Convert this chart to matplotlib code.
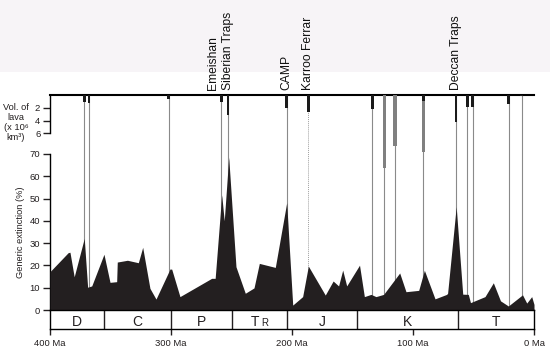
import matplotlib
matplotlib.use('Agg')
import matplotlib.pyplot as plt
from matplotlib.patches import Rectangle

plt.rcParams['font.family'] = ['Liberation Sans', 'DejaVu Sans']

# ---------------- data ----------------
# Generic extinction (%) through time (Ma)
ext_age = [400, 385, 383.5, 380, 371.7, 368.9, 365.5, 355.4, 350.4, 344.9, 344.4, 336, 327,
           323.4, 317.4, 312.4, 300.8, 299.4, 292.6, 266.4, 263.5, 258.1, 256, 252.3, 246.3,
           238.6, 231.4, 227, 213.8, 204.4, 199.4, 191.2, 186.5, 172.5, 166, 161.5, 158.1,
           154.8, 144.2, 140.2, 134.7, 130.6, 124.3, 111, 105.8, 95.3, 90.6, 81.8, 72.2,
           71.4, 64.3, 58.9, 54.3, 52.5, 40.5, 33.6, 27.7, 21.2, 9.5, 6, 1.9, 0]
ext_pct = [17.2, 25.7, 25.9, 14.9, 32.1, 10.2, 10.8, 25, 12.4, 12.7, 21.5, 22.3, 21.2,
           28.1, 9.7, 4.9, 18.4, 18.3, 6, 14.2, 14.2, 51.6, 40, 68.5, 19.4,
           7.5, 9.9, 20.9, 19.1, 48.1, 2.2, 6, 19.7, 6.7, 13, 10.8, 17.9,
           10.8, 20.1, 6, 7, 6, 7, 16.6, 8.2, 8.8, 17.8, 5, 7,
           7.5, 46.3, 7.1, 7, 3.3, 6, 12.2, 4.1, 1.8, 6.8, 3.1, 6, 2.5]

# Large igneous provinces: age (Ma), volume of lava (x10^6 km^3), kind, name
lip_age = [371.7, 367.8, 301.7, 258.4, 252.9, 204.4, 186.5, 133.6, 123.7, 114.9,
           91.5, 91.5, 64.5, 55.1, 50.7, 20.9, 10.2]
lip_vol = [1.1, 1.25, 0.6, 1.1, 3.1, 2.0, 2.6, 2.2, 11.4, 8.0,
           8.9, 1.0, 4.2, 1.9, 1.9, 1.4, 0.2]
lip_kind = ['continental', 'continental', 'continental', 'continental', 'continental',
            'continental', 'continental', 'continental', 'oceanic', 'oceanic',
            'oceanic', 'continental', 'continental', 'continental', 'continental',
            'continental', 'continental']
lip_name = ['', '', '', 'Emeishan', 'Siberian Traps', 'CAMP', 'Karroo Ferrar', '', '', '',
            '', '', 'Deccan Traps', '', '', '', '']

# Geological periods
period_names = ['D', 'C', 'P', 'TR', 'J', 'K', 'T']
period_bounds = [400, 355, 300, 250, 204, 146, 62.5, 0]

x_ticks = [400, 300, 200, 100, 0]
x_ticklabels = ['400 Ma', '300 Ma', '200 Ma', '100 Ma', '0 Ma']
ext_ticks = [0, 10, 20, 30, 40, 50, 60, 70]
vol_ticks = [2, 4, 6]

# ---------------- layout ----------------
W, H = 550, 357
fig = plt.figure(figsize=(W / 100, H / 100), dpi=100)
fig.patches.append(Rectangle((0, 1 - 72 / H), 1, 72 / H, transform=fig.transFigure,
                             facecolor='#f7f4f7', edgecolor='none', zorder=-10))

L = 50 / W
AW = 484 / W
top_px, zero_px, box_px = 95, 310, 329
ax = fig.add_axes([L, (H - zero_px) / H, AW, (zero_px - top_px) / H])
ax.patch.set_alpha(0)
ax.set_xlim(400, 0)
ax.set_ylim(0, (zero_px - top_px) / 2.23)

dark = '#231f20'
ax.fill_between(ext_age, ext_pct, 0, color=dark, lw=0, zorder=3)

seen = set()
for age, name in zip(lip_age, lip_name):
    if age in seen:
        continue
    seen.add(age)
    if name == 'Karroo Ferrar':
        ax.axvline(age, color='#a0a0a0', lw=0.7, ls=(0, (1, 1)), zorder=2)
    else:
        ax.axvline(age, color='#8a8a8a', lw=0.8, zorder=2)

for s in ['top', 'right', 'bottom']:
    ax.spines[s].set_visible(False)
ax.spines['left'].set_bounds(0, 70)
ax.spines['left'].set_linewidth(1.0)
ax.set_yticks(ext_ticks)
ax.set_xticks([])
ax.tick_params(axis='y', direction='out', length=5, width=1.0, labelsize=6.8, pad=2,
               colors='#231f20')

# lava volume axis
axl = fig.add_axes([L, (H - zero_px) / H, AW, (zero_px - top_px) / H])
axl.patch.set_alpha(0)
axl.set_xlim(400, 0)
axl.set_ylim((zero_px - top_px) / 6.4, 0)
for age, vol, kind in zip(lip_age, lip_vol, lip_kind):
    if kind == 'oceanic':
        axl.bar(age, vol, width=2.6, bottom=0, color='#808080', lw=0, zorder=3)
for age, vol, kind in zip(lip_age, lip_vol, lip_kind):
    if kind == 'continental':
        axl.bar(age, vol, width=2.4, bottom=0, color='#1a1a1a', lw=0, zorder=4)
for s in ['right', 'bottom']:
    axl.spines[s].set_visible(False)
axl.spines['top'].set_linewidth(1.5)
axl.spines['left'].set_bounds(0, 6)
axl.spines['left'].set_linewidth(1.0)
axl.set_yticks(vol_ticks)
axl.set_xticks([])
axl.tick_params(axis='y', direction='out', length=5, width=1.0, labelsize=6.8, pad=2,
                colors='#231f20')

label_shift = {'Emeishan': -8}
for age, name in zip(lip_age, lip_name):
    if name:
        axl.annotate(name, xy=(age, 1), xycoords=('data', 'axes fraction'),
                     xytext=(label_shift.get(name, 0), 5), textcoords='offset pixels',
                     rotation=90, ha='center', va='bottom', fontsize=8.7, color='#111111')

# period box
axp = fig.add_axes([L, (H - box_px) / H, AW, (box_px - zero_px) / H])
axp.set_xlim(400, 0)
axp.set_ylim(0, 1)
for s in axp.spines.values():
    s.set_linewidth(1.0)
for b in period_bounds[1:-1]:
    axp.axvline(b, color=dark, lw=1.0)
for i, nm in enumerate(period_names):
    mid = (period_bounds[i] + period_bounds[i + 1]) / 2
    if nm == 'TR':
        axp.text(mid, 0.16, 'T', ha='right', va='baseline', fontsize=10, color='#231f20')
        axp.annotate('R', xy=(mid, 0.16), xytext=(1.5, 0), textcoords='offset pixels',
                     ha='left', va='baseline', fontsize=7, color='#231f20')
    else:
        axp.text(mid, 0.16, nm, ha='center', va='baseline', fontsize=10, color='#231f20')
axp.set_yticks([])
axp.set_xticks(x_ticks)
axp.set_xticklabels(x_ticklabels)
axp.tick_params(axis='x', direction='out', length=4, width=1.0, labelsize=6.8, pad=3,
                colors='#231f20')

fig.text(21 / W, 1 - 232 / H, 'Generic extinction (%)', rotation=90, ha='center',
         va='center', fontsize=6.7, color='#231f20')
fig.text(16 / W, 1 - 122.5 / H, 'Vol. of\nlava\n(x 10\u2076\nkm\u00b3)', ha='center',
         va='center', fontsize=6.7, linespacing=1.1, color='#231f20')

fig.savefig('out.png', dpi=100)
